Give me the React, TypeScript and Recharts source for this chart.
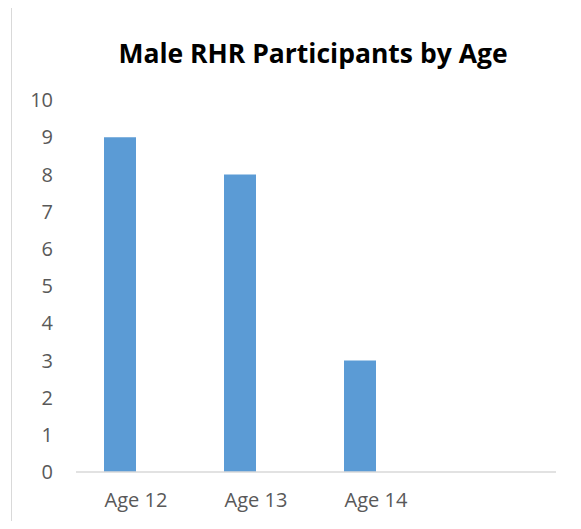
import { BarChart, Bar, XAxis, YAxis } from "recharts";

const categories = ["Age 12", "Age 13", "Age 14", ""];
const maleValues = [9, 8, 3, null];
const emptyValues = [null, null, null, null];
const yTicks = [0, 1, 2, 3, 4, 5, 6, 7, 8, 9, 10];

const data = categories.map((age, i) => ({
  age,
  male: maleValues[i],
  other: emptyValues[i],
}));

const FONT = "'Open Sans', 'Liberation Sans', sans-serif";
const tickStyle = { fill: "#595959", fontSize: 20, fontFamily: FONT };

export default function App() {
  return (
    <div
      style={{
        position: "relative",
        width: 581,
        height: 529,
        margin: -8,
        background: "#fff",
        overflow: "hidden",
      }}
    >
      <div
        style={{
          position: "absolute",
          left: 11,
          top: 7,
          right: 0,
          bottom: 0,
          borderTop: "1px solid #d9d9d9",
          borderLeft: "1px solid #d9d9d9",
        }}
      />
      <div
        style={{
          position: "absolute",
          left: 63,
          width: 500,
          top: 36,
          textAlign: "center",
          fontFamily: FONT,
          fontWeight: 700,
          fontSize: 26.5,
          color: "#000",
          lineHeight: "34px",
        }}
      >
        Male RHR Participants by Age
      </div>
      <BarChart
        width={581}
        height={529}
        data={data}
        margin={{ top: 100, right: 25, bottom: 0, left: 0 }}
        barGap={0}
        style={{ position: "absolute", left: 0, top: 0 }}
      >
        <XAxis
          dataKey="age"
          height={57}
          tickLine={false}
          tickSize={0}
          tickMargin={21}
          axisLine={{ stroke: "#d9d9d9", strokeWidth: 1.5 }}
          tick={tickStyle}
          interval={0}
        />
        <YAxis
          width={76}
          domain={[0, 10]}
          ticks={yTicks}
          interval={0}
          axisLine={false}
          tickLine={false}
          tickSize={0}
          tickMargin={23}
          tick={tickStyle}
        />
        <Bar dataKey="male" fill="#5b9bd5" barSize={32} isAnimationActive={false} />
        <Bar dataKey="other" fill="#ed7d31" barSize={32} isAnimationActive={false} />
      </BarChart>
    </div>
  );
}
